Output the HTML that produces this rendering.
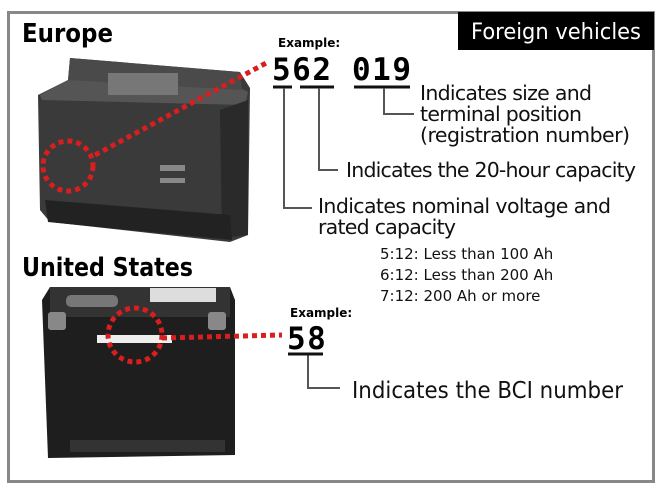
<!DOCTYPE html>
<html><head><style>
body{margin:0;background:#fff;width:661px;height:489px;overflow:hidden;font-family:"Liberation Sans","DejaVu Sans",sans-serif;}
</style></head><body>
<svg width="661" height="489" viewBox="0 0 661 489" xmlns="http://www.w3.org/2000/svg" font-family="'DejaVu Sans','Liberation Sans',sans-serif">
<rect x="8.5" y="12.5" width="645" height="469" fill="#fff" stroke="#888" stroke-width="3"/>
<rect x="458" y="12" width="196" height="38" fill="#000"/>
<text x="556" y="39" fill="#fff" font-size="22" text-anchor="middle" textLength="170" lengthAdjust="spacingAndGlyphs">Foreign vehicles</text>
<text x="22" y="42" font-size="26" font-weight="bold" textLength="91" lengthAdjust="spacingAndGlyphs">Europe</text>
<text x="22" y="276" font-size="26" font-weight="bold" textLength="171" lengthAdjust="spacingAndGlyphs">United States</text>
<!-- Europe battery -->
<polygon points="70,58 240,72 250,88 248,235 230,242 50,222 40,210 38,95 68,80" fill="#3a3a3a"/>
<polygon points="40,95 68,80 240,88 248,92 245,105 42,100" fill="#555"/>
<polygon points="70,58 240,72 242,90 68,80" fill="#4a4a4a"/>
<rect x="108" y="73" width="70" height="22" fill="#777"/>
<polygon points="220,110 248,100 248,235 222,238" fill="#2a2a2a"/>
<polygon points="45,200 230,215 232,240 48,222" fill="#222"/>
<rect x="160" y="165" width="25" height="6" fill="#888"/><rect x="160" y="178" width="25" height="5" fill="#888"/>
<!-- US battery -->
<polygon points="50,287 230,287 235,300 235,455 48,458 42,300" fill="#1e1e1e"/>
<rect x="50" y="287" width="180" height="30" fill="#333"/>
<rect x="150" y="288" width="66" height="14" fill="#ddd"/>
<rect x="66" y="295" width="52" height="12" fill="#777" rx="5"/>
<rect x="48" y="312" width="18" height="18" fill="#888" rx="3"/>
<rect x="208" y="312" width="18" height="18" fill="#888" rx="3"/>
<rect x="97" y="335" width="75" height="8" fill="#eee"/>
<rect x="70" y="440" width="155" height="12" fill="#333"/>
<!-- red dotted -->
<g fill="none" stroke="#d81e1e" stroke-width="5" stroke-dasharray="5,4">
<circle cx="68" cy="166" r="25"/>
<line x1="95" y1="155" x2="268" y2="62"/>
<circle cx="135" cy="335" r="27"/>
<line x1="162" y1="338" x2="282" y2="335"/>
</g>
<!-- labels -->
<text x="278" y="47" font-size="12" font-weight="bold">Example:</text>
<text x="272" y="80" font-size="31" font-weight="bold" letter-spacing="1.5" font-family="'DejaVu Sans Mono','Liberation Mono',monospace">562</text>
<text x="352" y="80" font-size="31" font-weight="bold" letter-spacing="1.5" font-family="'DejaVu Sans Mono','Liberation Mono',monospace">019</text>
<g stroke="#111" stroke-width="3"><line x1="273" y1="87" x2="292" y2="87"/><line x1="300" y1="87" x2="334" y2="87"/><line x1="354" y1="87" x2="410" y2="87"/></g>
<g fill="none" stroke="#555" stroke-width="2">
<polyline points="284,88 284,208 312,208"/>
<polyline points="319,88 319,170 338,170"/>
<polyline points="384,88 384,114 414,114"/>
<polyline points="308,354 308,388 340,388"/>
</g>
<g font-size="20.5" fill="#111" lengthAdjust="spacingAndGlyphs">
<text x="420" y="100" textLength="172">Indicates size and</text>
<text x="420" y="121" textLength="162">terminal position</text>
<text x="420" y="142" textLength="210">(registration number)</text>
<text x="346" y="177" textLength="290">Indicates the 20-hour capacity</text>
<text x="318" y="213" textLength="293">Indicates nominal voltage and</text>
<text x="318" y="234" textLength="138">rated capacity</text>
</g>
<g font-size="15" fill="#111">
<text x="380" y="259">5:12: Less than 100 Ah</text>
<text x="380" y="280">6:12: Less than 200 Ah</text>
<text x="380" y="301">7:12: 200 Ah or more</text>
</g>
<text x="290" y="317" font-size="12" font-weight="bold">Example:</text>
<text x="287" y="349" font-size="31" font-weight="bold" letter-spacing="1.5" font-family="'DejaVu Sans Mono','Liberation Mono',monospace">58</text>
<line x1="288" y1="354" x2="323" y2="354" stroke="#111" stroke-width="3"/>
<text x="352" y="398" font-size="23.5" fill="#111" textLength="271" lengthAdjust="spacingAndGlyphs">Indicates the BCI number</text>
</svg>
</body></html>
